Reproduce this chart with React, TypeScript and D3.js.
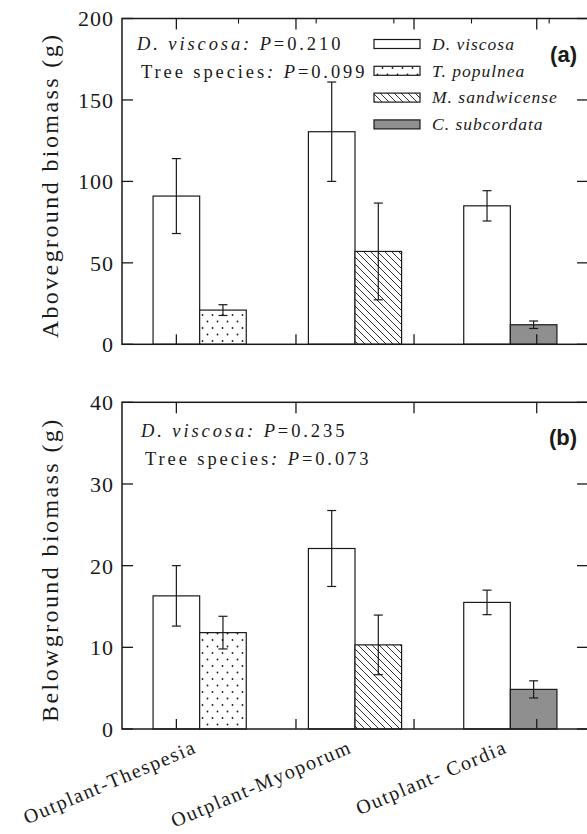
import React from "react";
import * as d3 from "d3";

const groups = ["Outplant-Thespesia", "Outplant-Myoporum", "Outplant- Cordia"];
const legendLabels = ["D. viscosa", "T. populnea", "M. sandwicense", "C. subcordata"];

// aboveground biomass (g)
const aboveViscosa = [91, 130.5, 85];
const aboveViscosaErr = [23, 30.5, 9.3];
const aboveTree = [21, 57, 12];
const aboveTreeErr = [3.3, 29.7, 2.3];

// belowground biomass (g)
const belowViscosa = [16.3, 22.1, 15.5];
const belowViscosaErr = [3.7, 4.65, 1.5];
const belowTree = [11.8, 10.3, 4.85];
const belowTreeErr = [2, 3.65, 1.05];

const aboveTicks = [0, 50, 100, 150, 200];
const belowTicks = [0, 10, 20, 30, 40];
const xMajorTicks = [-0.15, 0.62, 1.38, 2.17];
const xMinorTicks = [0.25, 0.75, 1.25, 1.75, 2.25];

const treeFills = ["url(#dots)", "url(#hatch)", "#8f8f8f"];
const legendFills = ["#fff", ...treeFills];

const serif = "Liberation Serif";
const ink = "#1a1a1a";

const x = d3.scaleLinear().domain([-0.5, 2.5]).range([122, 588]);
const barW = 0.3;

function Panel({ y, ticks, vis, visErr, tree, treeErr, pText, tText, tag, yLabel, minor, legend, tx, ty }) {
  const [y0, y1] = y.range();
  const xl = x.range()[0];
  const xr = x.range()[1];
  const ym = (y0 + y1) / 2 + 4;
  const bars = [];
  groups.forEach((g, i) => {
    bars.push({ x0: i - barW, x1: i, v: vis[i], e: visErr[i], fill: "#fff" });
    bars.push({ x0: i, x1: i + barW, v: tree[i], e: treeErr[i], fill: treeFills[i] });
  });
  return (
    <g>
      {bars.map((b, k) => (
        <rect key={k} x={x(b.x0)} y={y(b.v)} width={x(b.x1) - x(b.x0)} height={y(0) - y(b.v)}
          fill={b.fill} stroke={ink} strokeWidth={1.2} />
      ))}
      {bars.map((b, k) => {
        const cx = (x(b.x0) + x(b.x1)) / 2;
        return (
          <g key={"e" + k} stroke={ink} strokeWidth={1.2}>
            <line x1={cx} x2={cx} y1={y(b.v + b.e)} y2={y(b.v - b.e)} />
            <line x1={cx - 4.5} x2={cx + 4.5} y1={y(b.v + b.e)} y2={y(b.v + b.e)} />
            <line x1={cx - 4.5} x2={cx + 4.5} y1={y(b.v - b.e)} y2={y(b.v - b.e)} />
          </g>
        );
      })}
      <rect x={xl} y={y1} width={xr - xl} height={y0 - y1} fill="none" stroke={ink} strokeWidth={1.5} />
      {ticks.map(t => (
        <g key={t}>
          <line x1={xl} x2={xl + 11} y1={y(t)} y2={y(t)} stroke={ink} strokeWidth={1.3} />
          <line x1={xr} x2={xr - 11} y1={y(t)} y2={y(t)} stroke={ink} strokeWidth={1.3} />
          <text x={xl - 8} y={y(t)} dy="0.36em" textAnchor="end" fontSize={22}
            letterSpacing={1} fill={ink}>{t}</text>
        </g>
      ))}
      {xMajorTicks.map(t => (
        <g key={t} stroke={ink} strokeWidth={1.3}>
          <line x1={x(t)} x2={x(t)} y1={y1} y2={y1 + 11} />
          <line x1={x(t)} x2={x(t)} y1={y0} y2={y0 - 10} />
        </g>
      ))}
      {minor && xMinorTicks.map(t => (
        <line key={t} x1={x(t)} x2={x(t)} y1={y1} y2={y1 + 5} stroke={ink} strokeWidth={1.1} />
      ))}
      <text transform={`translate(58,${ym}) rotate(-90)`} textAnchor="middle"
        fontSize={24} letterSpacing={2.4} fill={ink}>{yLabel}</text>
      <text x={137 + tx} y={y1 + 31 + ty} fontSize={18.5} letterSpacing={2.9} fill={ink}>
        <tspan fontStyle="italic">D. viscosa: P</tspan>{pText}
      </text>
      <text x={141 + tx} y={y1 + 59 + ty} fontSize={18.5} letterSpacing={2.9} fill={ink}>
        Tree species<tspan fontStyle="italic">: P</tspan>{tText}
      </text>
      <text x={577} y={y1 + 43} textAnchor="end" fontFamily="Liberation Sans"
        fontWeight="bold" fontSize={22} fill={ink}>{tag}</text>
      {legend && legendLabels.map((l, k) => {
        const cy = y1 + 25.5 + k * 26.8;
        return (
          <g key={l}>
            <rect x={374} y={cy - 4.5} width={46} height={9} fill={legendFills[k]} stroke={ink} strokeWidth={1.2} />
            <text x={432} y={cy} dy="0.33em" fontStyle="italic" fontSize={17.5}
              letterSpacing={1} fill={ink}>{l}</text>
          </g>
        );
      })}
    </g>
  );
}

export default function App() {
  const yTop = d3.scaleLinear().domain([0, 200]).range([344.3, 18.5]);
  const yBot = d3.scaleLinear().domain([0, 40]).range([729, 402.3]);
  return (
    <svg width={587} height={834} fontFamily={serif}
      style={{ position: "absolute", left: 0, top: 0, background: "#fff", fontFamily: serif }}>
      <defs>
        <pattern id="dots" width={10} height={13} patternUnits="userSpaceOnUse">
          <rect width={10} height={13} fill="#fff" />
          <circle cx={2.5} cy={3} r={0.9} fill={ink} />
          <circle cx={7.5} cy={9.5} r={0.9} fill={ink} />
        </pattern>
        <pattern id="hatch" width={7} height={7} patternUnits="userSpaceOnUse">
          <rect width={7} height={7} fill="#fff" />
          <path d="M0,0 L7,7 M-1,6 L1,8 M6,-1 L8,1" stroke={ink} strokeWidth={0.9} />
        </pattern>
      </defs>
      <Panel y={yTop} ticks={aboveTicks} vis={aboveViscosa} visErr={aboveViscosaErr}
        tree={aboveTree} treeErr={aboveTreeErr} pText="=0.210" tText="=0.099" tag="(a)"
        yLabel="Aboveground biomass (g)" minor legend tx={0} ty={0} />
      <Panel y={yBot} ticks={belowTicks} vis={belowViscosa} visErr={belowViscosaErr}
        tree={belowTree} treeErr={belowTreeErr} pText="=0.235" tText="=0.073" tag="(b)"
        yLabel="Belowground biomass (g)" minor={false} legend={false} tx={4} ty={4} />
      {groups.map((g, i) => (
        <text key={g} transform={`translate(${x(i) - 2},752) rotate(-23)`} textAnchor="end"
          fontSize={20} letterSpacing={1.6} fill={ink}>{g}</text>
      ))}
    </svg>
  );
}
